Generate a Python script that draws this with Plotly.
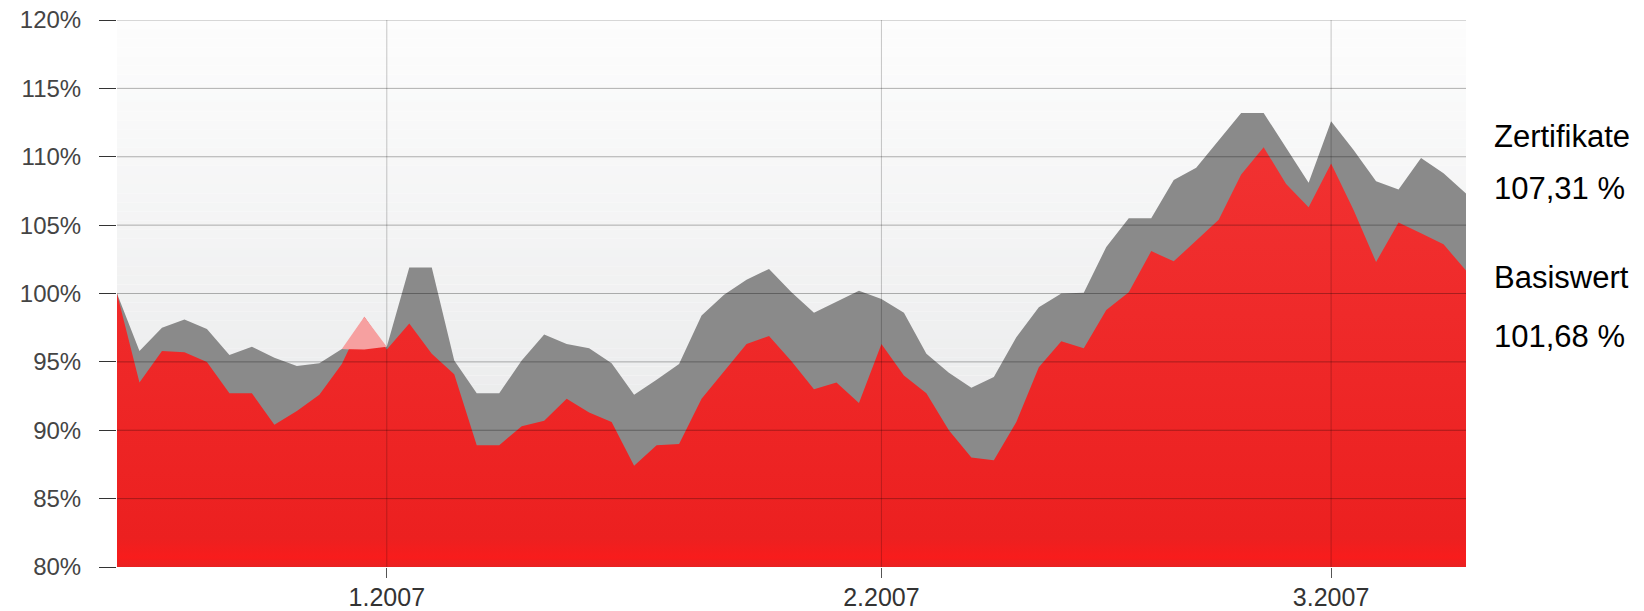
import plotly.graph_objects as go

# --- data ---
zertifikate = [100.0, 95.8, 97.5, 98.1, 97.4, 95.5, 96.1, 95.3, 94.7, 94.9,
               95.95, 95.9, 96.1, 101.9, 101.9, 95.1, 92.7, 92.7, 95.1, 97.0,
               96.3, 96.0, 94.9, 92.6, 93.7, 94.85, 98.4, 99.9, 101.0, 101.8,
               100.1, 98.6, 99.4, 100.2, 99.6, 98.6, 95.6, 94.2, 93.1, 93.9,
               96.8, 99.0, 100.0, 100.05, 103.4, 105.5, 105.5, 108.3, 109.2, 111.2,
               113.2, 113.2, 110.6, 108.1, 112.6, 110.5, 108.2, 107.6, 109.9, 108.8,
               107.31]
basiswert = [100.0, 93.5, 95.8, 95.7, 95.0, 92.7, 92.7, 90.4, 91.4, 92.6,
             94.85, 98.3, 95.9, 97.8, 95.6, 94.1, 88.9, 88.9, 90.3, 90.7,
             92.3, 91.3, 90.6, 87.4, 88.9, 89.0, 92.3, 94.3, 96.3, 96.9,
             95.05, 93.0, 93.5, 92.0, 96.3, 94.0, 92.7, 90.0, 88.0, 87.8,
             90.6, 94.6, 96.5, 96.0, 98.8, 100.1, 103.1, 102.35, 103.9, 105.4,
             108.7, 110.7, 108.0, 106.3, 109.5, 106.1, 102.3, 105.2, 104.4, 103.6,
             101.68]
trading_day = list(range(len(zertifikate)))
month_tick_pos = [12, 34, 54]
month_tick_text = ["1.2007", "2.2007", "3.2007"]
y_ticks = [80, 85, 90, 95, 100, 105, 110, 115, 120]
y_tick_text = ["80%", "85%", "90%", "95%", "100%", "105%", "110%", "115%", "120%"]
legend_labels = ["Zertifikate", "107,31 %", "Basiswert", "101,68 %"]

GRAY = "rgb(138,138,138)"
RED = "rgb(238,36,36)"
PINK = "rgb(246,160,160)"
FONT = "Liberation Sans, Arial, sans-serif"

upper = [max(r, g) for r, g in zip(basiswert, zertifikate)]

fig = go.Figure()
fig.add_trace(go.Scatter(x=trading_day, y=zertifikate, mode="lines", fill="tozeroy",
                         fillcolor=GRAY, line=dict(width=0, color=GRAY),
                         hoverinfo="skip", showlegend=False))
fig.add_trace(go.Scatter(x=trading_day, y=basiswert, mode="lines", fill="tozeroy",
                         fillcolor=RED,
                         fillgradient=dict(type="vertical", start=80, stop=115,
                                           colorscale=[[0, "rgb(232,34,34)"],
                                                       [0.02, "rgb(248,28,28)"],
                                                       [0.06, "rgb(236,32,32)"],
                                                       [1, "rgb(242,52,52)"]]),
                         line=dict(width=0, color=RED),
                         hoverinfo="skip", showlegend=False))
fig.add_trace(go.Scatter(x=trading_day, y=zertifikate, mode="lines",
                         line=dict(width=0, color="rgba(0,0,0,0)"),
                         hoverinfo="skip", showlegend=False))
fig.add_trace(go.Scatter(x=trading_day, y=upper, mode="lines", fill="tonexty",
                         fillcolor=PINK, line=dict(width=0, color=PINK),
                         hoverinfo="skip", showlegend=False))

# background gradient of the plot area (styling only)
n = 60
top_c = (253, 253, 253)
bot_c = (228, 229, 230)
shapes = []
for k in range(n):
    f = (k + 0.5) / n
    c = tuple(round(top_c[j] + (bot_c[j] - top_c[j]) * f) for j in range(3))
    shapes.append(dict(type="rect", xref="paper", yref="paper", x0=0, x1=1,
                       y0=1 - (k + 1) / n, y1=1 - k / n, layer="below",
                       line=dict(width=0), fillcolor="rgb(%d,%d,%d)" % c))
# grid lines drawn above the areas
for v in y_ticks[1:]:
    shapes.append(dict(type="line", xref="paper", yref="y", x0=0, x1=1, y0=v, y1=v,
                       layer="above", line=dict(color="rgba(0,0,0,0.3)", width=1)))
for p in month_tick_pos:
    shapes.append(dict(type="line", xref="x", yref="paper", x0=p, x1=p, y0=0, y1=1,
                       layer="above", line=dict(color="rgba(0,0,0,0.22)", width=1)))

ann_y = [111.5, 107.65, 101.18, 96.87]
annotations = [dict(text=t, xref="paper", yref="y", x=1.0193, y=yy, xanchor="left",
                    yanchor="middle", showarrow=False,
                    font=dict(family=FONT, size=31, color="black"))
               for t, yy in zip(legend_labels, ann_y)]

fig.update_layout(
    width=1644, height=611,
    margin=dict(l=117, r=178, t=20, b=44, autoexpand=False),
    paper_bgcolor="white", plot_bgcolor="white",
    shapes=shapes, annotations=annotations,
    font=dict(family=FONT),
    xaxis=dict(range=[0, 60], tickvals=month_tick_pos, ticktext=month_tick_text,
               showgrid=False, zeroline=False, showline=False, automargin=False,
               ticks="outside", ticklen=10, tickcolor="#555",
               ticklabelstandoff=-2,
               tickfont=dict(family=FONT, size=25, color="#333")),
    yaxis=dict(range=[80, 120], tickvals=y_ticks, ticktext=y_tick_text,
               showgrid=False, zeroline=False, showline=False, automargin=False,
               ticks="outside", ticklen=17, tickcolor="#333",
               ticklabelstandoff=13,
               tickfont=dict(family=FONT, size=24, color="#444")),
)

fig.write_html("out.html",
               config={"displayModeBar": False},
               post_script="document.body.style.margin='0';"
                           "document.body.style.overflow='hidden';")
